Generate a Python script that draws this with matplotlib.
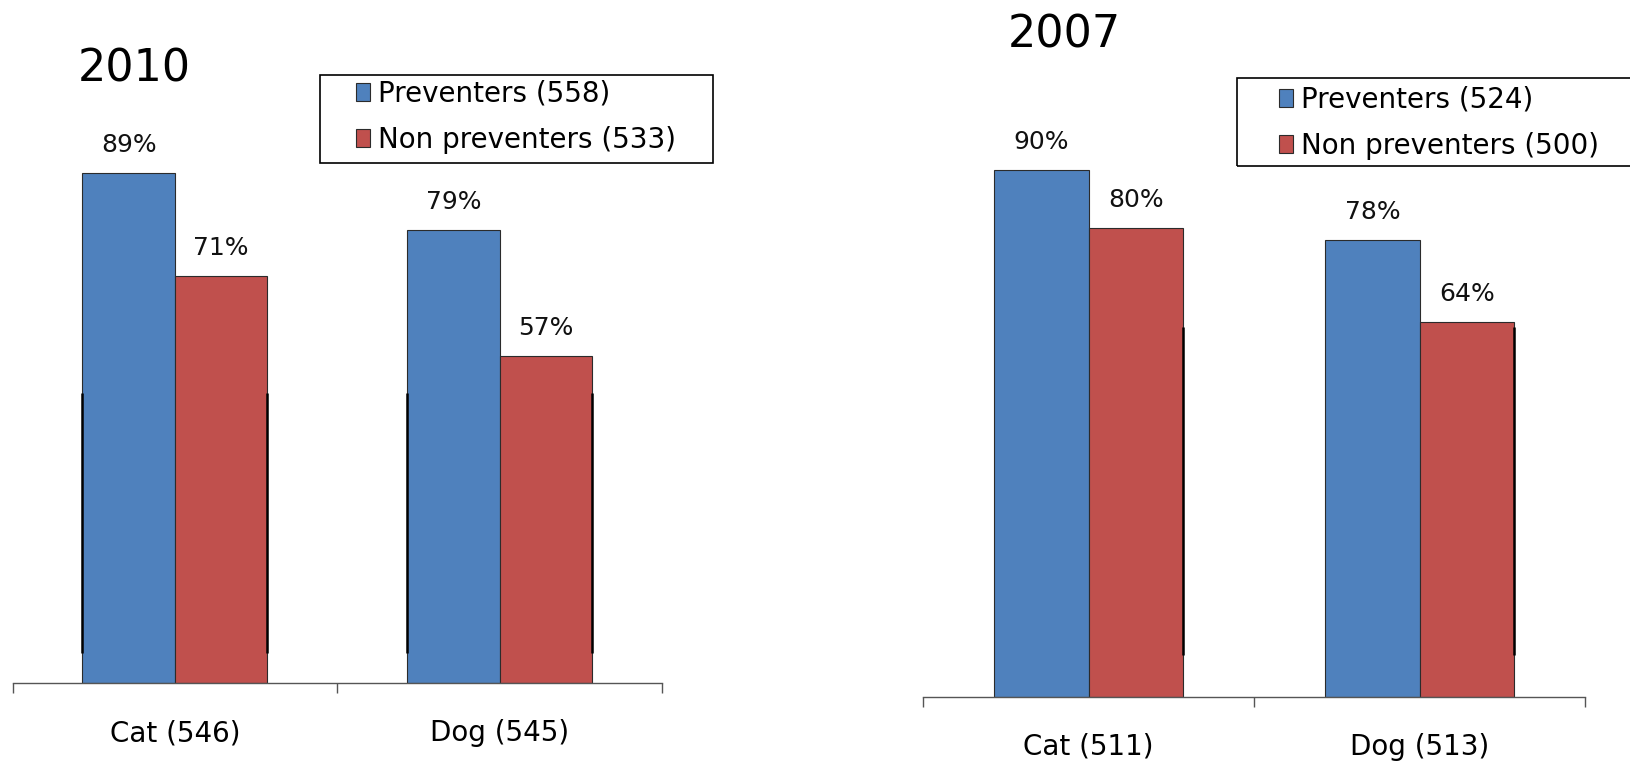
import matplotlib
matplotlib.use("Agg")
import matplotlib.pyplot as plt
from matplotlib.patches import Rectangle
import numpy as np

# data
years = ["2010", "2007"]
cats_2010 = ["Cat (546)", "Dog (545)"]
cats_2007 = ["Cat (511)", "Dog (513)"]
prev_2010 = [89, 79]
nonprev_2010 = [71, 57]
prev_2007 = [90, 78]
nonprev_2007 = [80, 64]
leg_2010 = ["Preventers (558)", "Non preventers (533)"]
leg_2007 = ["Preventers (524)", "Non preventers (500)"]

BLUE = "#4F81BD"
RED = "#C0504D"
W, H = 1630, 762

fig = plt.figure(figsize=(16.3, 7.62), dpi=100)

def fx(px):
    return px / W

def fy(py):
    return 1 - py / H

def panel(rect, cats, prev, nonprev, labels, title, title_xy, legbox, leghandle_x, legrow_y, stub):
    ax = fig.add_axes(rect)
    x = np.arange(len(cats))
    bw = 0.285
    b1 = ax.bar(x - bw / 2, prev, bw, color=BLUE, edgecolor="#2b2b2b", linewidth=0.8, label=labels[0])
    b2 = ax.bar(x + bw / 2, nonprev, bw, color=RED, edgecolor="#2b2b2b", linewidth=0.8, label=labels[1])
    for bars in (b1, b2):
        for b in bars:
            ax.annotate(f"{int(b.get_height())}%", (b.get_x() + b.get_width() / 2, b.get_height()),
                        xytext=(0, 15), textcoords="offset points", ha="center", va="baseline",
                        fontsize=18, color="#111111")
    # dark stubs on the outer bar edges (as in the source image)
    lo, hi, both = stub
    for xi in x:
        if both:
            ax.vlines(xi - bw, lo, hi, color="black", linewidth=1.8, zorder=3)
        ax.vlines(xi + bw, lo, hi, color="black", linewidth=1.8, zorder=3)
    ax.set_xlim(-0.5, len(cats) - 0.5)
    ax.set_ylim(0, 100)
    for s in ("top", "right", "left"):
        ax.spines[s].set_visible(False)
    ax.spines["bottom"].set_color("#555555")
    ax.spines["bottom"].set_linewidth(1.0)
    ax.set_yticks([])
    ax.set_xticks(np.arange(len(cats) + 1) - 0.5)
    ax.set_xticklabels([])
    ax.tick_params(axis="x", which="major", length=7.2, width=1, color="#555555")
    ax.set_xticks(x, minor=True)
    ax.set_xticklabels(cats, minor=True, fontsize=20)
    ax.tick_params(axis="x", which="minor", length=0, pad=26)

    fig.text(fx(title_xy[0]), fy(title_xy[1]), title, fontsize=32, ha="left", va="baseline")

    x0, y0, x1, y1 = legbox
    fig.patches.append(Rectangle((fx(x0), fy(y1)), fx(x1 - x0), (y1 - y0) / H,
                                 transform=fig.transFigure, fill=False,
                                 edgecolor="black", linewidth=1.2, figure=fig))
    fig.legend(handles=[b1, b2], labels=labels, loc="center left",
               bbox_to_anchor=(fx(leghandle_x), fy((legrow_y[0] + legrow_y[1]) / 2)),
               frameon=False, fontsize=20, handlelength=0.5, handleheight=0.62,
               handletextpad=0.3, labelspacing=0.65, borderpad=0, borderaxespad=0)
    return ax

panel([fx(12.5), fy(683), fx(649.5), 573.5 / H], cats_2010, prev_2010, nonprev_2010, leg_2010,
      years[0], (78, 82), (320, 75, 713, 163), 356, (94, 139), (5.2, 50.6, True))
panel([fx(923), fy(696.5), fx(662), 585.5 / H], cats_2007, prev_2007, nonprev_2007, leg_2007,
      years[1], (1008, 47), (1237, 78, 1640, 166), 1279, (100, 145.5), (7.1, 63.1, False))

fig.savefig("out.png", dpi=100)
